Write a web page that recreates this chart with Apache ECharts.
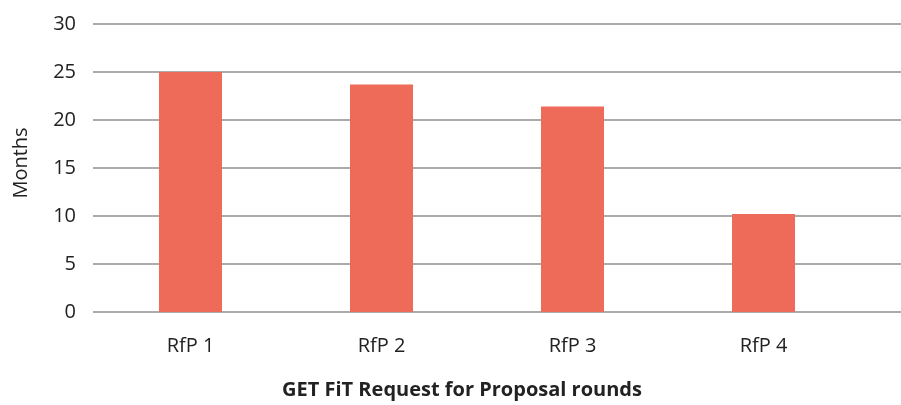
<!DOCTYPE html>
<html>
<head>
<meta charset="utf-8">
<script src="https://cdn.jsdelivr.net/npm/echarts@6/dist/echarts.min.js"></script>
<style>
  html, body { margin: 0; padding: 0; background: #fff; }
  #chart { width: 901px; height: 405px; }
</style>
</head>
<body>
<div id="chart"></div>
<script>
const categories = ['RfP 1', 'RfP 2', 'RfP 3', 'RfP 4']
const months = [25, 23.7, 21.4, 10.2]
const yTicks = { min: 0, max: 30, interval: 5 }

const font = '"Open Sans", "Noto Sans", sans-serif'
const textColor = '#222222'
const gridColor = '#8f8f8f'

const chart = echarts.init(document.getElementById('chart'))

chart.setOption({
  animation: false,
  textStyle: { fontFamily: font },
  // grid 0 carries the full-width gridlines, grid 1 holds the bars
  grid: [
    { left: 93, right: -10, top: 24, bottom: 93, outerBoundsMode: 'none', containLabel: false },
    { left: 95, right: 42, top: 24, bottom: 93, outerBoundsMode: 'none', containLabel: false },
  ],
  xAxis: [
    { type: 'value', gridIndex: 0, show: false, min: 0, max: 1 },
    {
      type: 'category',
      gridIndex: 1,
      data: categories,
      axisLine: { show: false },
      axisTick: { show: false },
      axisLabel: { color: textColor, fontSize: 20, fontFamily: font, margin: 24 },
    },
  ],
  yAxis: [
    {
      type: 'value',
      gridIndex: 0,
      min: yTicks.min,
      max: yTicks.max,
      interval: yTicks.interval,
      axisLine: { show: false },
      axisTick: { show: false },
      axisLabel: {
        color: textColor,
        fontSize: 20,
        fontFamily: font,
        margin: 17,
        padding: [0, 0, 15, 0],
      },
      splitLine: { lineStyle: { color: gridColor, width: 1.5 } },
    },
    {
      type: 'value',
      gridIndex: 1,
      min: yTicks.min,
      max: yTicks.max,
      interval: yTicks.interval,
      show: false,
      splitLine: { show: false },
    },
  ],
  graphic: [
    {
      type: 'text',
      x: 21,
      y: 163,
      rotation: Math.PI / 2,
      style: {
        text: 'Months',
        fill: textColor,
        font: '20px ' + font,
        align: 'center',
        verticalAlign: 'middle',
      },
    },
    {
      type: 'text',
      x: 462,
      y: 390,
      style: {
        text: 'GET FiT Request for Proposal rounds',
        fill: textColor,
        font: 'bold 20px ' + font,
        align: 'center',
        verticalAlign: 'middle',
      },
    },
  ],
  series: [
    {
      type: 'bar',
      xAxisIndex: 1,
      yAxisIndex: 1,
      data: months,
      barWidth: 63,
      itemStyle: { color: '#ee6b59' },
    },
  ],
})
</script>
</body>
</html>
